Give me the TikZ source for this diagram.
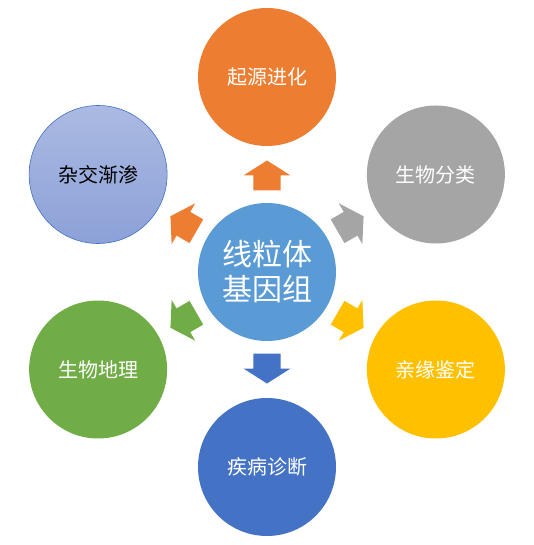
\documentclass[tikz,border=0pt]{standalone}
\usepackage{fontspec}
\newfontfamily\cjk{Noto Sans CJK SC}
\usetikzlibrary{calc}
\definecolor{hubBlue}{HTML}{5B9BD5}
\definecolor{accOrange}{HTML}{ED7D31}
\definecolor{accGray}{HTML}{A5A5A5}
\definecolor{accYellow}{HTML}{FFC000}
\definecolor{accBlue}{HTML}{4472C4}
\definecolor{accGreen}{HTML}{70AD47}
\definecolor{lavTop}{HTML}{ABBAE2}
\definecolor{lavBot}{HTML}{8CA1D8}
\tikzset{
  topic/.style={circle,minimum size=138pt,inner sep=0pt,text=white,
    font=\cjk\fontsize{20}{24}\selectfont},
  hub/.style={circle,minimum size=138pt,inner sep=0pt,fill=hubBlue,text=white,
    align=center,font=\cjk\fontsize{30}{35}\selectfont},
}
\begin{document}
\begin{tikzpicture}[x=1pt,y=1pt]
  \useasboundingbox (-267,-273) rectangle (267,272);
  % centre
  \node[hub] (genome) at (0,0) {线粒体\\基因组};
  % outer topics
  \foreach \ang/\nm/\col/\txt in {90/origin/accOrange/起源进化,
      30/taxon/accGray/生物分类, -30/kinship/accYellow/亲缘鉴定,
      -90/disease/accBlue/疾病诊断, -150/geo/accGreen/生物地理} {
    \node[topic,fill=\col] (\nm) at (\ang:195) {\txt};
  }
  \node[topic,text=black,top color=lavTop,bottom color=lavBot,draw=accBlue,
    line width=0.6pt] (hybrid) at (150:195) {杂交渐渗};
  % block arrows
  \foreach \ang/\nm/\col in {90/origin/accOrange, 30/taxon/accGray,
      -30/kinship/accYellow, -90/disease/accBlue, -150/geo/accGreen,
      150/hybrid/accOrange} {
    \begin{scope}[shift={($(genome)!0.495!(\nm)$)},rotate=\ang-90]
      \fill[\col] (-13.7,-15) -- (13.7,-15) -- (13.7,0) -- (23.5,0)
        -- (0,15) -- (-23.5,0) -- (-13.7,0) -- cycle;
    \end{scope}
  }
\end{tikzpicture}
\end{document}
